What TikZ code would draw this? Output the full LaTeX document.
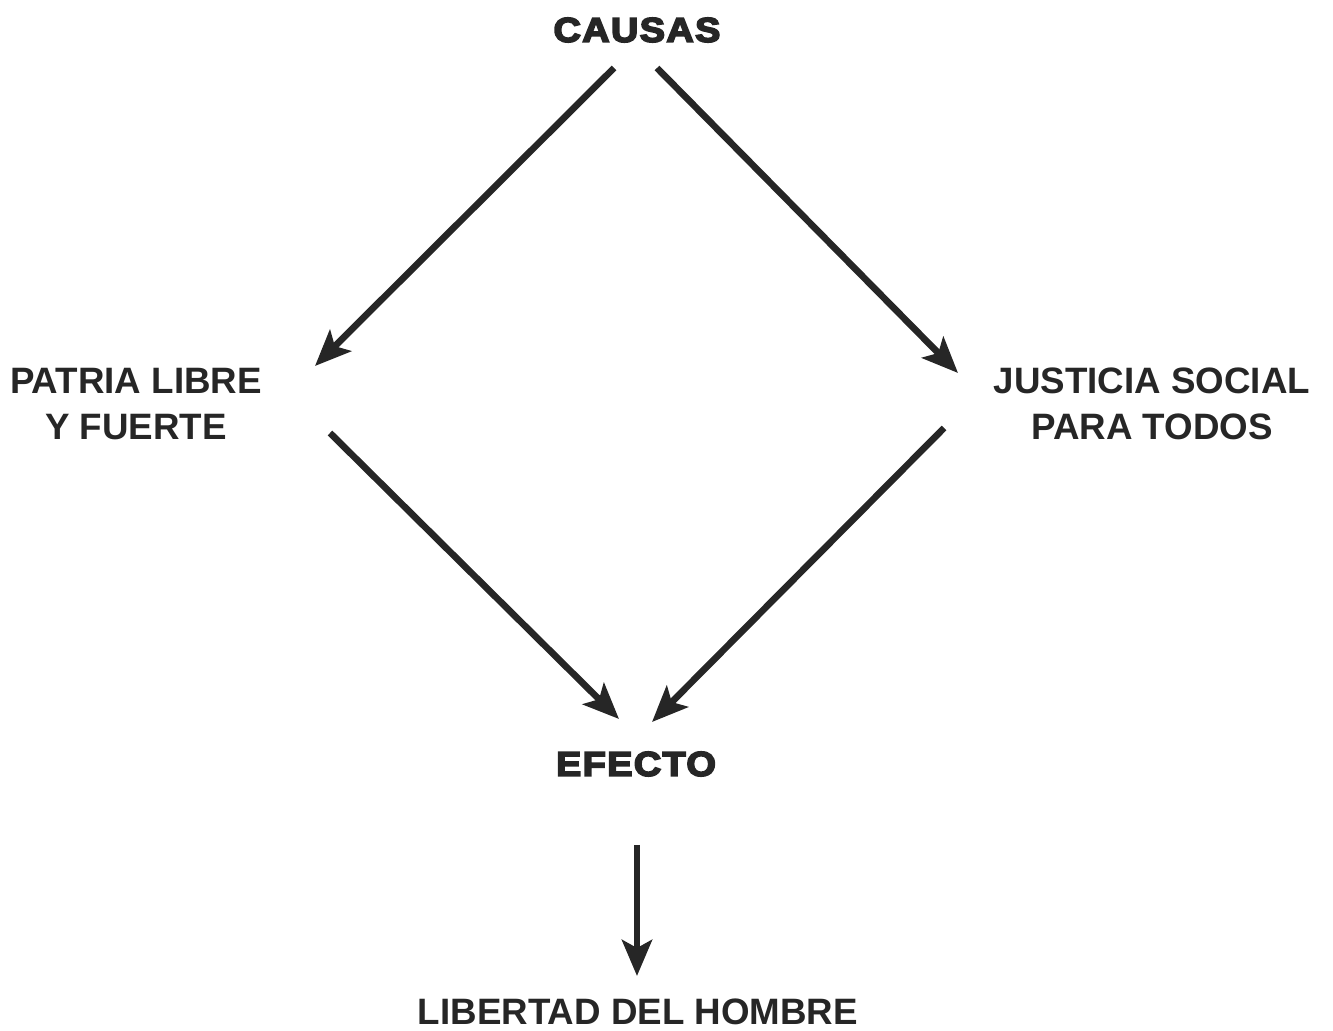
\documentclass[tikz,border=0pt]{standalone}
\usepackage{fontspec}
\setmainfont{Liberation Sans}
\newfontfamily\heavyfont[FakeBold=5,FakeStretch=1.1,LetterSpace=4]{Liberation Sans Bold}
\usetikzlibrary{arrows.meta}
\definecolor{ink}{HTML}{262626}
\tikzset{
  label/.style={text=ink,font=\bfseries\fontsize{10.45}{13.1}\selectfont,align=center},
  heavy/.style={text=ink,font=\heavyfont\fontsize{9.8}{12}\selectfont},
  arr/.style={draw=ink,line width=1.9pt,-{Stealth[length=0.36cm,width=0.3cm,inset=0.08cm]}}
}
\begin{document}
\begin{tikzpicture}
\useasboundingbox (0,0) rectangle (13.33,10.30);
\node[heavy] (causas) at (6.37, 10.00) {CAUSAS};
\node[heavy] (efecto) at (6.36, 2.66) {EFECTO};
\node[label] (patria) at (1.36, 6.26) {PATRIA LIBRE\\Y FUERTE};
\node[label] (justicia) at (11.52, 6.26) {JUSTICIA SOCIAL\\PARA TODOS};
\node[label] (libertad) at (6.38, 0.18) {LIBERTAD DEL HOMBRE};

% arrow ends
\coordinate (causasL) at (6.14, 9.62);
\coordinate (causasR) at (6.57, 9.62);
\coordinate (patriaT) at (3.15, 6.64);
\coordinate (patriaB) at (3.30, 5.97);
\coordinate (justiciaT) at (9.58, 6.57);
\coordinate (justiciaB) at (9.44, 6.02);
\coordinate (efectoL) at (6.19, 3.11);
\coordinate (efectoR) at (6.52, 3.08);
\coordinate (efectoB) at (6.37, 1.85);
\coordinate (libertadT) at (6.37, 0.54);

\draw [arr] (causasL) -- (patriaT);
\draw [arr] (causasR) -- (justiciaT);
\draw [arr] (patriaB) -- (efectoL);
\draw [arr] (justiciaB) -- (efectoR);
\draw [arr] (efectoB) -- (libertadT);
\end{tikzpicture}
\end{document}
